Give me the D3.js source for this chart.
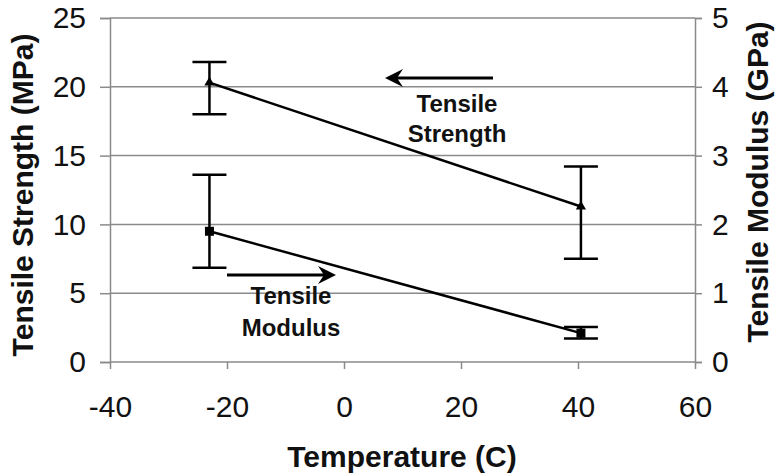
<!DOCTYPE html>
<html>
<head>
<meta charset="utf-8">
<script src="https://cdn.jsdelivr.net/npm/d3@7"></script>
<style>
  body { margin: 0; background: #fff; }
  svg text { font-family: "Liberation Sans", Arial, sans-serif; fill: #111; }
</style>
</head>
<body>
<div id="chart"></div>
<script>
// Values
const temps = [-23, 40.5];
const strength = [20.3, 11.3];
const strengthLow = [18.0, 7.5];
const strengthHigh = [21.8, 14.2];
const modulus = [1.9, 0.42];
const modulusLow = [1.37, 0.34];
const modulusHigh = [2.72, 0.51];

const xTicks = [-40, -20, 0, 20, 40, 60];
const leftTicks = [0, 5, 10, 15, 20, 25];
const rightTicks = [0, 1, 2, 3, 4, 5];

const width = 779, height = 476;
const grid = '#8a8a8a';

const svg = d3.select('#chart').append('svg')
  .attr('width', width)
  .attr('height', height);

const x = d3.scaleLinear().domain([-40, 60]).range([110, 695]);
const yL = d3.scaleLinear().domain([0, 25]).range([362, 18]);
const yR = d3.scaleLinear().domain([0, 5]).range([362, 18]);

// gridlines
svg.append('g').selectAll('line')
  .data(leftTicks.filter(d => d > 0))
  .enter().append('line')
  .attr('x1', x(-40)).attr('x2', x(60))
  .attr('y1', d => yL(d)).attr('y2', d => yL(d))
  .attr('stroke', grid).attr('stroke-width', 1.5);

const fmt = d => String(d);

// left axis
const gl = svg.append('g')
  .attr('transform', `translate(${x(-40)},0)`)
  .call(d3.axisLeft(yL).tickValues(leftTicks).tickFormat(fmt).tickSize(10).tickPadding(14));
// right axis
const gr = svg.append('g')
  .attr('transform', `translate(${x(60)},0)`)
  .call(d3.axisRight(yR).tickValues(rightTicks).tickFormat(fmt).tickSize(7).tickPadding(10));
// bottom axis
const gb = svg.append('g')
  .attr('transform', `translate(0,${yL(0)})`)
  .call(d3.axisBottom(x).tickValues(xTicks).tickFormat(fmt).tickSize(7));

[gl, gr, gb].forEach(g => {
  g.selectAll('.domain').attr('stroke', grid).attr('stroke-width', 1.5);
  g.selectAll('.tick line').attr('stroke', grid).attr('stroke-width', 1.5);
  g.selectAll('.tick text')
    .attr('font-size', 30)
    .attr('font-family', '"Liberation Sans", Arial, sans-serif')
    .attr('fill', '#111');
});
gb.selectAll('.tick text').attr('y', 55).attr('dy', 0);
gb.select('.domain').attr('d', `M${x(-40)},0H${x(60)}`);

// error bars
function errorBars(lo, hi, y) {
  const g = svg.append('g').attr('stroke', '#000').attr('stroke-width', 2.5).attr('fill', 'none');
  temps.forEach((t, i) => {
    const cx = x(t);
    g.append('line').attr('x1', cx).attr('x2', cx).attr('y1', y(lo[i])).attr('y2', y(hi[i]));
    g.append('line').attr('x1', cx - 17).attr('x2', cx + 17).attr('y1', y(lo[i])).attr('y2', y(lo[i]));
    g.append('line').attr('x1', cx - 17).attr('x2', cx + 17).attr('y1', y(hi[i])).attr('y2', y(hi[i]));
  });
}
errorBars(strengthLow, strengthHigh, yL);
errorBars(modulusLow, modulusHigh, yR);

// series lines
const lineS = d3.line().x((d, i) => x(temps[i])).y(d => yL(d));
const lineM = d3.line().x((d, i) => x(temps[i])).y(d => yR(d));
svg.append('path').datum(strength).attr('d', lineS)
  .attr('fill', 'none').attr('stroke', '#000').attr('stroke-width', 2.5);
svg.append('path').datum(modulus).attr('d', lineM)
  .attr('fill', 'none').attr('stroke', '#000').attr('stroke-width', 2.5);

// markers
svg.append('g').selectAll('path')
  .data(strength)
  .enter().append('path')
  .attr('transform', (d, i) => `translate(${x(temps[i])},${yL(d)})`)
  .attr('d', d3.symbol().type(d3.symbolTriangle).size(45))
  .attr('fill', '#000');
svg.append('g').selectAll('rect')
  .data(modulus)
  .enter().append('rect')
  .attr('x', (d, i) => x(temps[i]) - 4.5)
  .attr('y', d => yR(d) - 4.5)
  .attr('width', 9).attr('height', 9)
  .attr('fill', '#000');

// annotation arrows
function arrow(x1, x2, y) {
  const dir = Math.sign(x2 - x1);
  svg.append('line')
    .attr('x1', x1).attr('x2', x2 - dir * 10).attr('y1', y).attr('y2', y)
    .attr('stroke', '#000').attr('stroke-width', 3);
  svg.append('path')
    .attr('d', `M${x2},${y}L${x2 - dir * 18},${y - 9}L${x2 - dir * 12},${y}L${x2 - dir * 18},${y + 9}Z`)
    .attr('fill', '#000');
}
arrow(493, 385, 78);
arrow(227, 336, 275);

const note = svg.append('g')
  .attr('font-size', 24).attr('font-weight', 'bold').attr('text-anchor', 'middle');
note.append('text').attr('x', 457).attr('y', 112).text('Tensile');
note.append('text').attr('x', 457).attr('y', 142).text('Strength');
note.append('text').attr('x', 291).attr('y', 304).text('Tensile');
note.append('text').attr('x', 291).attr('y', 336).text('Modulus');

// axis titles
svg.append('text')
  .attr('x', 402).attr('y', 467)
  .attr('text-anchor', 'middle')
  .attr('font-size', 30).attr('font-weight', 'bold')
  .text('Temperature (C)');
svg.append('text')
  .attr('transform', 'translate(33,195) rotate(-90)')
  .attr('text-anchor', 'middle')
  .attr('font-size', 30).attr('font-weight', 'bold')
  .text('Tensile Strength (MPa)');
svg.append('text')
  .attr('transform', 'translate(768,182) rotate(-90)')
  .attr('text-anchor', 'middle')
  .attr('font-size', 30).attr('font-weight', 'bold')
  .text('Tensile Modulus (GPa)');
</script>
</body>
</html>
